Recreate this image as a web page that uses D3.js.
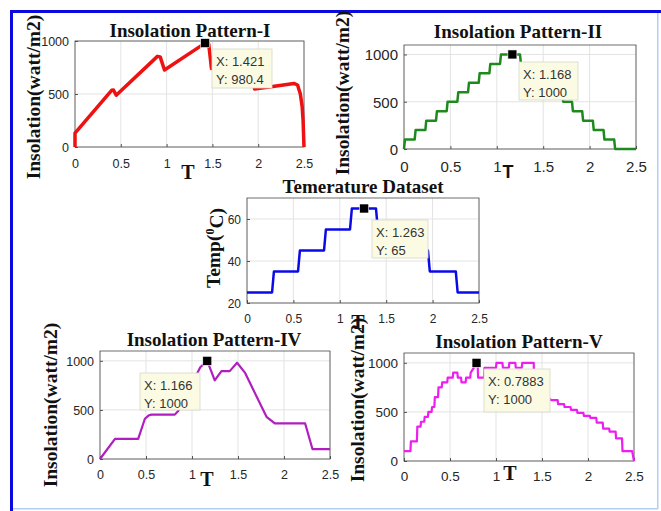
<!DOCTYPE html>
<html>
<head>
<meta charset="utf-8">
<script src="https://cdn.jsdelivr.net/npm/d3@7"></script>
<style>
  body { margin: 0; background: #fff; }
</style>
</head>
<body>
<div id="chart"></div>
<script>
// Eixo T comum a todos os painéis
const xTicks = [0, 0.5, 1, 1.5, 2, 2.5];
const insolTicks = [0, 500, 1000];
const tempTicks = [20, 40, 60];

// Insolation Pattern-I
const p1T = [0, 0, 0.40, 0.42, 0.45, 0.90, 0.93, 0.977, 1.42, 1.46, 1.49, 1.94, 1.96, 2.14, 2.39, 2.43, 2.46, 2.48, 2.49, 2.5];
const p1V = [0, 130, 535, 538, 488, 855, 850, 726, 980, 970, 740, 905, 548, 569, 600, 585, 500, 380, 250, 0];

// Insolation Pattern-II (degraus de 100)
const p2T = [0, 0.01, 0.115, 0.125, 0.23, 0.24, 0.345, 0.355, 0.46, 0.47, 0.575, 0.585, 0.69, 0.70, 0.805, 0.815, 0.92, 0.93, 1.035, 1.045,
             1.25, 1.26, 1.365, 1.375, 1.48, 1.49, 1.595, 1.605, 1.705, 1.715, 1.81, 1.82, 1.92, 1.93, 2.035, 2.045, 2.15, 2.16, 2.265, 2.275, 2.5];
const p2V = [0, 100, 100, 200, 200, 300, 300, 400, 400, 500, 500, 600, 600, 700, 700, 800, 800, 900, 900, 1000,
             1000, 900, 900, 800, 800, 700, 700, 600, 600, 500, 500, 400, 400, 300, 300, 200, 200, 100, 100, 0, 0];

// Temerature Dataset
const p3T = [0, 0.27, 0.29, 0.55, 0.57, 0.83, 0.85, 1.11, 1.13, 1.39, 1.41, 1.67, 1.69, 1.95, 1.97, 2.25, 2.27, 2.5];
const p3V = [25, 25, 35, 35, 45, 45, 55, 55, 65, 65, 55, 55, 45, 45, 35, 35, 25, 25];

// Insolation Pattern-IV
const p4T = [0, 0.163, 0.415, 0.488, 0.53, 0.56, 0.813, 0.85, 1.09, 1.166, 1.247, 1.32, 1.41, 1.49, 1.575, 1.81, 1.9, 2.23, 2.31, 2.5];
const p4V = [0, 205, 205, 410, 445, 452, 452, 490, 935, 1000, 800, 895, 895, 980, 880, 430, 362, 362, 100, 100];

// Insolation Pattern-V
const p5T = [0, 0.07, 0.075, 0.14, 0.145, 0.18, 0.185, 0.22, 0.225, 0.26, 0.265, 0.30, 0.305, 0.33, 0.335, 0.37, 0.375, 0.41, 0.415, 0.47, 0.475, 0.53, 0.535, 0.58, 0.585, 0.62, 0.625, 0.67, 0.675, 0.72, 0.725, 0.76, 0.788, 0.80, 0.805, 0.87, 0.875, 0.93, 0.935, 1.0, 1.005, 1.07, 1.075, 1.14, 1.145, 1.21, 1.215, 1.28, 1.285, 1.35, 1.355, 1.41, 1.415, 1.6,
             1.67, 1.675, 1.74, 1.745, 1.81, 1.815, 1.88, 1.885, 1.95, 1.955, 2.02, 2.025, 2.09, 2.095, 2.16, 2.165, 2.23, 2.235, 2.3, 2.305, 2.37, 2.375, 2.48, 2.5];
const p5V = [100, 100, 200, 200, 350, 350, 400, 400, 450, 450, 500, 500, 550, 550, 650, 650, 750, 750, 800, 800, 850, 850, 900, 900, 850, 850, 800, 800, 850, 850, 900, 950, 1000, 1000, 850, 850, 950, 950, 950, 950, 1000, 1000, 950, 950, 1000, 1000, 950, 950, 1000, 1000, 1000, 1000, 750, 620,
             620, 580, 580, 550, 550, 520, 520, 490, 490, 460, 460, 440, 440, 390, 390, 330, 330, 300, 300, 230, 230, 100, 100, 0];

const SERIF = "'Liberation Serif', 'Times New Roman', serif";
const SANS = "'Liberation Sans', Arial, sans-serif";

// Painéis: posição dos eixos e estilos
const panels = [
  { t: p1T, v: p1V, x0: 75, x1: 304, y0: 41, y1: 147, yDomain: [0, 1000], yTicks: insolTicks,
    color: "#ee1111", lw: 3.5, tickSize: 12.5,
    title: "Insolation Pattern-I", titleX: 190, titleY: 37,
    ylabel: "Insolation(watt/m2)", ylabelX: 33, ylabelY: 97, tX: 188, tY: 179, tFont: SERIF, tSize: 20, xLabY: 168,
    tip: { x: 212, y: 49, w: 60, h: 39, mx: 1.421, my: 980.4, lines: ["X: 1.421", "Y: 980.4"] } },
  { t: p2T, v: p2V, x0: 404, x1: 636, y0: 45, y1: 149, yDomain: [0, 1100], yTicks: insolTicks,
    color: "#1e8a1e", lw: 2.5, tickSize: 15,
    title: "Insolation Pattern-II", titleX: 518, titleY: 38,
    ylabel: "Insolation(watt/m2)", ylabelX: 342, ylabelY: 93, tX: 508, tY: 178, tFont: SANS, tSize: 18, xLabY: 172,
    tip: { x: 519, y: 62, w: 59, h: 38, mx: 1.168, my: 1000, lines: ["X: 1.168", "Y: 1000"] } },
  { t: p3T, v: p3V, x0: 247, x1: 479, y0: 198, y1: 303, yDomain: [20, 70], yTicks: tempTicks,
    color: "#0a0ae6", lw: 2.5, tickSize: 12,
    title: "Temerature Dataset", titleX: 363, titleY: 193,
    ylabel: null, ylabelX: 213, ylabelY: 248, tX: 358, tY: 329, tFont: SERIF, tSize: 20, xLabY: 323,
    tip: { x: 372, y: 220, w: 56, h: 38, mx: 1.263, my: 65, lines: ["X: 1.263", "Y: 65"] } },
  { t: p4T, v: p4V, x0: 100, x1: 330, y0: 351, y1: 459, yDomain: [0, 1100], yTicks: insolTicks,
    color: "#b01ec0", lw: 2.2, tickSize: 12.5,
    title: "Insolation Pattern-IV", titleX: 214, titleY: 346,
    ylabel: "Insolation(watt/m2)", ylabelX: 50, ylabelY: 405, tX: 207, tY: 486, tFont: SERIF, tSize: 20, xLabY: 479,
    tip: { x: 140, y: 373, w: 60, h: 37, mx: 1.166, my: 1000, lines: ["X: 1.166", "Y: 1000"] } },
  { t: p5T, v: p5V, x0: 404, x1: 634, y0: 353, y1: 461, yDomain: [0, 1100], yTicks: insolTicks,
    color: "#ee1eee", lw: 2.2, tickSize: 13.5,
    title: "Insolation Pattern-V", titleX: 519, titleY: 348,
    ylabel: "Insolation(watt/m2)", ylabelX: 357, ylabelY: 400, tX: 510, tY: 480, tFont: SERIF, tSize: 20, xLabY: 481,
    tip: { x: 484, y: 369, w: 66, h: 43, mx: 0.7883, my: 1000, lines: ["X: 0.7883", "Y: 1000"] } }
];

const width = 661, height = 511;
const svg = d3.select("#chart").append("svg")
  .attr("width", width).attr("height", height)
  .attr("viewBox", `0 0 ${width} ${height}`);

svg.append("rect").attr("width", width).attr("height", height).attr("fill", "#fff");

// moldura azul
svg.append("rect").attr("x", 657).attr("y", 12).attr("width", 1.5).attr("height", 497).attr("fill", "#b4cdf2");
svg.append("rect").attr("x", 11).attr("y", 508).attr("width", 647).attr("height", 1.5).attr("fill", "#b4cdf2");
svg.append("rect").attr("x", 10).attr("y", 10).attr("width", 651).attr("height", 3).attr("fill", "#0a0ae0");
svg.append("rect").attr("x", 10).attr("y", 10).attr("width", 3).attr("height", 501).attr("fill", "#0a0ae0");

panels.forEach(drawPanel);

function drawPanel(p) {
  const g = svg.append("g");
  const x = d3.scaleLinear().domain([0, 2.5]).range([p.x0, p.x1]);
  const y = d3.scaleLinear().domain(p.yDomain).range([p.y1, p.y0]);

  g.append("rect").attr("x", p.x0).attr("y", p.y0)
    .attr("width", p.x1 - p.x0).attr("height", p.y1 - p.y0).attr("fill", "#fff");

  // grade
  g.selectAll(".gx").data(xTicks).enter().append("line")
    .attr("x1", d => x(d)).attr("x2", d => x(d)).attr("y1", p.y0).attr("y2", p.y1)
    .attr("stroke", "#e3e3e3").attr("stroke-width", 1);
  g.selectAll(".gy").data(p.yTicks).enter().append("line")
    .attr("x1", p.x0).attr("x2", p.x1).attr("y1", d => y(d)).attr("y2", d => y(d))
    .attr("stroke", "#e3e3e3").attr("stroke-width", 1);

  // eixos (ticks para dentro, como no MATLAB)
  const axB = d3.axisBottom(x).tickValues(xTicks).tickSize(-3).tickPadding(0).tickFormat(d3.format("~g"));
  const axL = d3.axisLeft(y).tickValues(p.yTicks).tickSize(-3).tickPadding(0).tickFormat(d3.format("~g"));
  const gb = g.append("g").attr("transform", `translate(0,${p.y1})`).call(axB);
  const gl = g.append("g").attr("transform", `translate(${p.x0},0)`).call(axL);
  [gb, gl].forEach(a => {
    a.select(".domain").remove();
    a.selectAll("line").attr("stroke", "#555");
    a.selectAll("text").attr("fill", "#262626")
      .style("font-size", p.tickSize + "px").style("font-family", SANS);
  });
  gb.selectAll("text").attr("y", p.xLabY - p.y1).attr("dy", 0);
  gl.selectAll("text").attr("x", -6).attr("dy", "0.36em");

  // caixa
  g.append("rect").attr("x", p.x0).attr("y", p.y0)
    .attr("width", p.x1 - p.x0).attr("height", p.y1 - p.y0)
    .attr("fill", "none").attr("stroke", "#4a4a4a").attr("stroke-width", 0.8);

  // linha
  const line = d3.line().x((d, i) => x(p.t[i])).y(d => y(d));
  g.append("path").datum(p.v).attr("d", line)
    .attr("fill", "none").attr("stroke", p.color).attr("stroke-width", p.lw)
    .attr("stroke-linejoin", "round");

  // título
  g.append("text").attr("x", p.titleX).attr("y", p.titleY).attr("text-anchor", "middle")
    .style("font-family", SERIF).style("font-weight", "bold")
    .style("font-size", "19px").attr("fill", "#111").text(p.title);

  // rótulo T
  g.append("text").attr("x", p.tX).attr("y", p.tY).attr("text-anchor", "middle")
    .style("font-family", p.tFont).style("font-weight", "bold")
    .style("font-size", p.tSize + "px").attr("fill", "#111").text("T");

  // rótulo Y
  const yl = g.append("text").attr("transform", `translate(${p.ylabelX},${p.ylabelY}) rotate(-90)`)
    .attr("text-anchor", "middle").attr("dy", "0.35em")
    .style("font-family", SERIF).style("font-weight", "bold")
    .style("font-size", "19.5px").attr("fill", "#111");
  if (p.ylabel) {
    yl.text(p.ylabel);
  } else {
    yl.append("tspan").text("Temp(");
    yl.append("tspan").attr("dy", "-0.45em").style("font-size", "12px").text("0");
    yl.append("tspan").attr("dy", "0.45em").text("C)");
  }

  // datatip
  const tp = p.tip;
  g.append("rect").attr("x", tp.x).attr("y", tp.y).attr("width", tp.w).attr("height", tp.h)
    .attr("fill", "#fbfbe4").attr("stroke", "#d8d8c8").attr("stroke-width", 0.8);
  tp.lines.forEach((s, i) => {
    g.append("text").attr("x", tp.x + 4).attr("y", tp.y + 17 + i * 18)
      .style("font-family", SANS).style("font-size", "13px").attr("fill", "#333").text(s);
  });
  g.append("rect").attr("x", x(tp.mx) - 4.5).attr("y", y(tp.my) - 4.5)
    .attr("width", 9).attr("height", 9).attr("fill", "#000")
    .attr("stroke", "#fff").attr("stroke-width", 0.6);
}
</script>
</body>
</html>
